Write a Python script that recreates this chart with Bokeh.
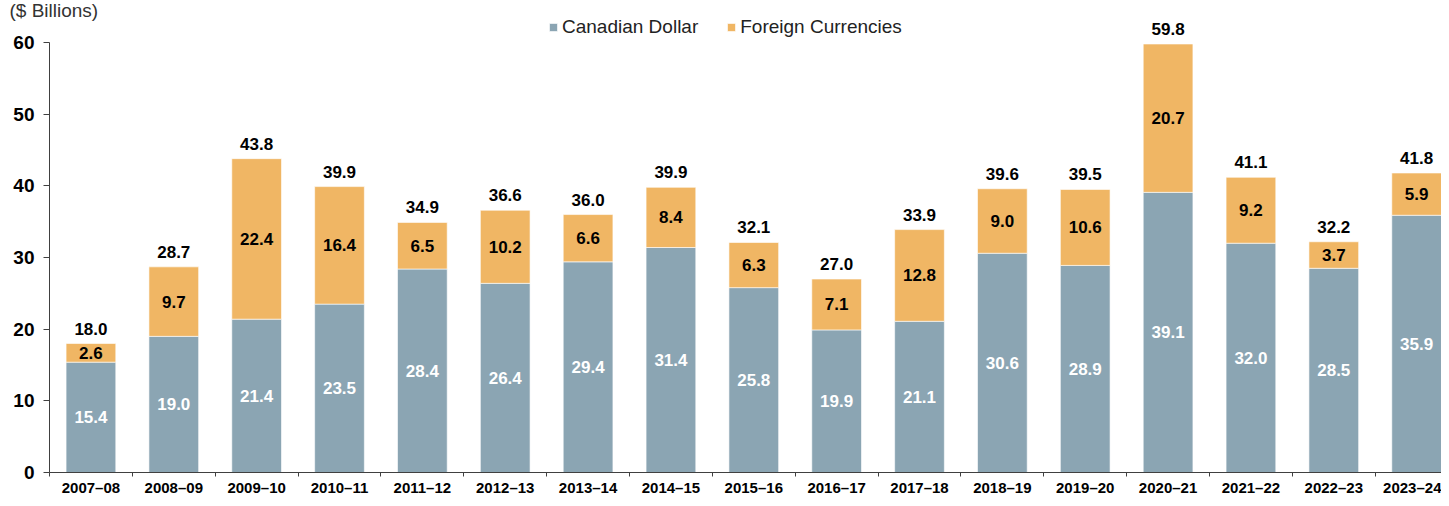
import numpy as np
from bokeh.plotting import figure
from bokeh.models import (ColumnDataSource, Range1d, FixedTicker, Legend, LegendItem)
from bokeh.embed import file_html
from bokeh.resources import INLINE

years = ["2007–08", "2008–09", "2009–10", "2010–11", "2011–12", "2012–13", "2013–14",
         "2014–15", "2015–16", "2016–17", "2017–18", "2018–19", "2019–20", "2020–21",
         "2021–22", "2022–23", "2023–24"]
canadian = [15.4, 19.0, 21.4, 23.5, 28.4, 26.4, 29.4, 31.4, 25.8, 19.9, 21.1, 30.6, 28.9, 39.1, 32.0, 28.5, 35.9]
foreign = [2.6, 9.7, 22.4, 16.4, 6.5, 10.2, 6.6, 8.4, 6.3, 7.1, 12.8, 9.0, 10.6, 20.7, 9.2, 3.7, 5.9]
totals = [18.0, 28.7, 43.8, 39.9, 34.9, 36.6, 36.0, 39.9, 32.1, 27.0, 33.9, 39.6, 39.5, 59.8, 41.1, 32.2, 41.8]
y_ticks = [0, 10, 20, 30, 40, 50, 60]

C_CAD = "#8BA5B3"
C_FOR = "#F0B664"
FONT = "Liberation Sans"

x = list(range(len(years)))
can = np.array(canadian)
fx = np.array(foreign)
src = ColumnDataSource(dict(
    x=x, canadian=canadian, foreign=foreign,
    can_mid=(can / 2).tolist(),
    for_mid=(can + fx / 2).tolist(),
    top=(can + fx).tolist(),
    can_lbl=[f"{v:.1f}" for v in canadian],
    for_lbl=[f"{v:.1f}" for v in foreign],
    tot_lbl=[f"{v:.1f}" for v in totals],
))

p = figure(width=1441, height=498, output_backend="svg", toolbar_location=None,
           x_range=Range1d(-0.5, 16.3), y_range=Range1d(0, 63.5),
           min_border_left=49, min_border_right=0, min_border_top=0, min_border_bottom=20)
p.outline_line_color = None
p.grid.visible = False
p.background_fill_color = "white"

p.title.text = "($ Billions)"
p.title.align = "left"
p.title.offset = -40
p.title.text_font = FONT
p.title.text_font_size = "19px"
p.title.text_font_style = "normal"
p.title.text_color = "#333333"
try:
    p.title.standoff = -6
    neg_ok = True
except Exception:
    p.title.standoff = 0
    neg_ok = False

if neg_ok:
    p.y_range.end = 63.5
    leg_y = 434
else:
    p.y_range.end = 62.65
    leg_y = 426

rs = p.vbar_stack(["canadian", "foreign"], x="x", width=0.6, source=src,
                  color=[C_CAD, C_FOR], line_color="white", line_width=0.6)

p.text(x="x", y="can_mid", text="can_lbl", source=src, text_align="center",
       text_baseline="middle", text_color="white", text_font_style="bold",
       text_font_size="17px", text_font={"value": FONT})
p.text(x="x", y="for_mid", text="for_lbl", source=src, text_align="center",
       text_baseline="middle", text_color="black", text_font_style="bold",
       text_font_size="17px", text_font={"value": FONT})
p.text(x="x", y="top", text="tot_lbl", source=src, text_align="center",
       text_baseline="bottom", y_offset=-9, text_color="black", text_font_style="bold",
       text_font_size="17px", text_font={"value": FONT})

# y axis
ya = p.yaxis[0]
ya.ticker = FixedTicker(ticks=y_ticks)
ya.bounds = (0, 60)
ya.minor_tick_line_color = None
ya.major_tick_out = 6
ya.major_tick_in = 0
ya.axis_line_color = "#404040"
ya.major_tick_line_color = "#404040"
ya.major_label_standoff = 9
ya.major_label_text_font = FONT
ya.major_label_text_font_style = "bold"
ya.major_label_text_font_size = "19px"
ya.major_label_text_color = "black"

# x axis
xa = p.xaxis[0]
xa.ticker = FixedTicker(ticks=x, minor_ticks=[i - 0.5 for i in range(len(years) + 1)])
xa.major_label_overrides = {i: years[i] for i in x}
xa.major_tick_line_color = None
xa.major_tick_out = 0
xa.major_tick_in = 0
xa.minor_tick_out = 4
xa.minor_tick_in = 0
xa.minor_tick_line_color = "#404040"
xa.axis_line_color = "#404040"
xa.major_label_standoff = 2
xa.major_label_text_font = FONT
xa.major_label_text_font_style = "bold"
xa.major_label_text_font_size = "15px"
xa.major_label_text_color = "black"

legend = Legend(items=[LegendItem(label="Canadian Dollar", renderers=[rs[0]]),
                       LegendItem(label="Foreign Currencies", renderers=[rs[1]])],
                orientation="horizontal", location=(499, leg_y),
                glyph_width=10, glyph_height=10, label_standoff=4, spacing=28,
                label_height=18, padding=0, margin=0, border_line_color=None,
                background_fill_alpha=0,
                label_text_font=FONT, label_text_font_size="19px", label_text_color="#222222")
p.add_layout(legend)

open("out.html", "w").write(file_html(p, INLINE))
